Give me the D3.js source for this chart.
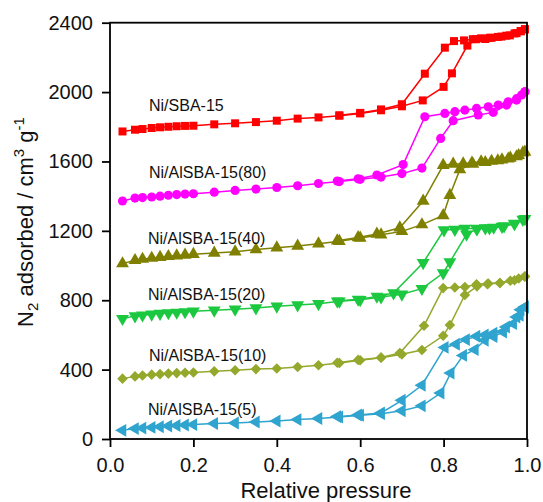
<!DOCTYPE html>
<html><head><meta charset="utf-8">
<script src="https://cdn.jsdelivr.net/npm/d3@7"></script>
<style>body{margin:0;background:#fff}svg{display:block}</style>
</head><body>
<svg id="c" width="543" height="502"></svg>
<script>
// ---- data: [relative pressure, N2 adsorbed] ----
const sba15Ads = [[0.030,1773],[0.060,1783],[0.078,1787],[0.100,1793],[0.120,1797],[0.140,1800],[0.160,1803],[0.180,1805],[0.200,1806],[0.25,1814],[0.30,1820],[0.35,1827],[0.40,1835],[0.45,1847],[0.50,1854],[0.55,1864],[0.60,1877],[0.65,1895],[0.70,1918],[0.75,1952],[0.80,2030],[0.82,2108],[0.857,2268],[0.878,2305],[0.90,2306],[0.915,2313],[0.939,2320],[0.959,2327],[0.975,2340],[0.985,2350],[0.995,2362]];
const sba15Des = [[0.995,2362],[0.985,2352],[0.97,2338],[0.95,2325],[0.93,2318],[0.91,2313],[0.89,2310],[0.87,2305],[0.849,2298],[0.825,2294],[0.803,2256],[0.755,2106],[0.70,1930],[0.65,1900],[0.60,1880],[0.55,1866]];
const al80Ads = [[0.030,1372],[0.060,1389],[0.078,1392],[0.10,1395],[0.12,1400],[0.14,1405],[0.16,1409],[0.18,1412],[0.20,1414],[0.25,1423],[0.30,1433],[0.35,1441],[0.40,1450],[0.45,1460],[0.50,1473],[0.55,1484],[0.60,1497],[0.65,1510],[0.70,1530],[0.748,1562],[0.793,1733],[0.823,1835],[0.883,1868],[0.919,1883],[0.951,1925],[0.975,1954],[0.987,1983],[0.995,2002]];
const al80Des = [[0.995,2002],[0.975,1962],[0.955,1944],[0.931,1925],[0.907,1915],[0.879,1906],[0.851,1896],[0.827,1887],[0.803,1877],[0.755,1858],[0.703,1582],[0.64,1522],[0.595,1500],[0.545,1487]];
const al40Ads = [[0.030,1011],[0.060,1030],[0.078,1037],[0.10,1043],[0.12,1048],[0.14,1053],[0.16,1057],[0.18,1061],[0.20,1065],[0.25,1072],[0.30,1080],[0.35,1092],[0.40,1103],[0.45,1113],[0.50,1126],[0.55,1140],[0.60,1159],[0.65,1178],[0.70,1197],[0.748,1236],[0.799,1289],[0.815,1405],[0.839,1553],[0.87,1585],[0.90,1595],[0.93,1605],[0.955,1615],[0.975,1628],[0.99,1650]];
const al40Des = [[0.995,1655],[0.98,1635],[0.96,1620],[0.94,1610],[0.915,1602],[0.89,1598],[0.868,1592],[0.847,1587],[0.823,1585],[0.799,1578],[0.751,1372],[0.695,1218],[0.64,1182],[0.595,1162],[0.545,1143]];
const al20Ads = [[0.030,694],[0.060,709],[0.078,714],[0.10,719],[0.12,723],[0.14,727],[0.16,730],[0.18,733],[0.20,736],[0.25,742],[0.30,748],[0.35,755],[0.40,765],[0.45,772],[0.50,780],[0.55,794],[0.60,803],[0.65,818],[0.70,834],[0.748,867],[0.799,957],[0.815,1020],[0.855,1180],[0.88,1210],[0.91,1216],[0.94,1225],[0.97,1240],[0.99,1265]];
const al20Des = [[0.995,1270],[0.97,1243],[0.945,1228],[0.92,1220],[0.90,1216],[0.879,1213],[0.851,1213],[0.827,1208],[0.801,1205],[0.751,1016],[0.68,842],[0.64,822],[0.595,805],[0.545,795]];
const al10Ads = [[0.030,348],[0.060,361],[0.078,366],[0.10,371],[0.12,374],[0.14,377],[0.16,380],[0.18,382],[0.20,383],[0.25,390],[0.30,396],[0.35,403],[0.40,406],[0.45,415],[0.50,425],[0.55,438],[0.60,454],[0.65,469],[0.70,488],[0.748,513],[0.799,595],[0.815,657],[0.851,830],[0.88,880],[0.905,893],[0.935,899],[0.96,912],[0.98,925],[0.995,936]];
const al10Des = [[0.995,938],[0.97,915],[0.935,899],[0.907,896],[0.879,892],[0.851,876],[0.827,873],[0.799,870],[0.753,653],[0.695,496],[0.65,470],[0.595,456],[0.545,440]];
const al5Ads = [[0.030,50],[0.060,60],[0.078,63],[0.10,67],[0.12,71],[0.14,75],[0.16,78],[0.18,81],[0.20,83],[0.25,89],[0.30,92],[0.35,98],[0.40,104],[0.45,112],[0.50,118],[0.55,127],[0.60,137],[0.65,146],[0.70,163],[0.748,191],[0.793,265],[0.817,380],[0.847,482],[0.875,515],[0.899,569],[0.92,590],[0.943,617],[0.967,665],[0.983,713],[0.995,761]];
const al5Des = [[0.995,761],[0.985,745],[0.975,703],[0.95,646],[0.92,610],[0.899,600],[0.879,592],[0.854,573],[0.83,546],[0.803,528],[0.748,310],[0.70,223],[0.65,150],[0.595,138],[0.545,129]];

const seriesNames = ["Ni/SBA-15","Ni/AlSBA-15(80)","Ni/AlSBA-15(40)","Ni/AlSBA-15(20)","Ni/AlSBA-15(10)","Ni/AlSBA-15(5)"];
const xTicks = [0,0.2,0.4,0.6,0.8,1.0];
const yTicks = [0,400,800,1200,1600,2000,2400];

// ---- styling / layout ----
const colors = ["#ff0000","#ff00ff","#808000","#1bc83f","#94a82c","#2ea4cf"];
const shapes = ["square","circle","up","down","diamond","left"];
const labelPos = [[149,111],[149,178],[148,244],[148,300],[149,361],[148,415]];
const adsList = [sba15Ads,al80Ads,al40Ads,al20Ads,al10Ads,al5Ads];
const desList = [sba15Des,al80Des,al40Des,al20Des,al10Des,al5Des];

const svg = d3.select("#c");
const L=110,R=527,T=22.7,B=439;
const x = d3.scaleLinear().domain([0,1]).range([L,R]);
const y = d3.scaleLinear().domain([0,2400]).range([B,T]);
const font = "'Liberation Sans', Arial, sans-serif";

const line = d3.line().x(d=>x(d[0])).y(d=>y(d[1]));

function symPath(shape){
  if(shape==="square") return {p:d3.symbol(d3.symbolSquare,64)(),r:0};
  if(shape==="circle") return {p:d3.symbol(d3.symbolCircle,66)(),r:0};
  if(shape==="diamond") return {p:d3.symbol(d3.symbolSquare,56)(),r:45};
  const p = d3.symbol(d3.symbolTriangle,72)();
  return {p, r: shape==="up"?0:shape==="down"?180:-90};
}

const g = svg.append("g");
adsList.forEach((ads,i)=>{
  const des = desList[i];
  const c = colors[i];
  [ads,des].forEach(d=>{
    g.append("path").attr("d",line(d)).attr("fill","none").attr("stroke",c).attr("stroke-width",1.5);
  });
  const s = symPath(shapes[i]);
  [ads,des].forEach(d=>{
    g.selectAll(null).data(d).enter().append("path")
      .attr("d",s.p)
      .attr("transform",p=>`translate(${x(p[0])},${y(p[1])}) rotate(${s.r})`)
      .attr("fill",c);
  });
  svg.append("text").attr("x",labelPos[i][0]).attr("y",labelPos[i][1])
    .attr("font-family",font).attr("font-size",16).attr("fill","#111").text(seriesNames[i]);
});

// axes
const yAxis = d3.axisLeft(y).tickValues(yTicks).tickSize(8).tickSizeOuter(0).tickPadding(9).tickFormat(d3.format("d"));
const xAxis = d3.axisBottom(x).tickValues(xTicks).tickSize(8).tickSizeOuter(0).tickPadding(11).tickFormat(d3.format(".1f"));
const ya = svg.append("g").attr("transform",`translate(${L},0)`).call(yAxis);
const xa = svg.append("g").attr("transform",`translate(0,${B})`).call(xAxis);
[ya,xa].forEach(a=>{
  a.selectAll("text").attr("font-family",font).attr("font-size",20).attr("fill","#111");
  a.selectAll("line").attr("stroke","#000").attr("stroke-width",1.8);
  a.select(".domain").remove();
});
svg.append("rect").attr("x",L).attr("y",T).attr("width",R-L).attr("height",B-T)
  .attr("fill","none").attr("stroke","#000").attr("stroke-width",1.8);

// axis titles
svg.append("text").attr("x",326).attr("y",498).attr("text-anchor","middle")
  .attr("font-family",font).attr("font-size",22).attr("fill","#111").text("Relative pressure");
const yt = svg.append("text").attr("transform","translate(33,222) rotate(-90)").attr("text-anchor","middle")
  .attr("font-family",font).attr("font-size",22).attr("fill","#111");
yt.append("tspan").text("N");
yt.append("tspan").attr("font-size",15).attr("dy",5).text("2");
yt.append("tspan").attr("dy",-5).text(" adsorbed / cm");
yt.append("tspan").attr("font-size",15).attr("dy",-9).text("3");
yt.append("tspan").attr("dy",9).text(" g");
yt.append("tspan").attr("font-size",15).attr("dy",-9).text("-1");
</script>
</body></html>
